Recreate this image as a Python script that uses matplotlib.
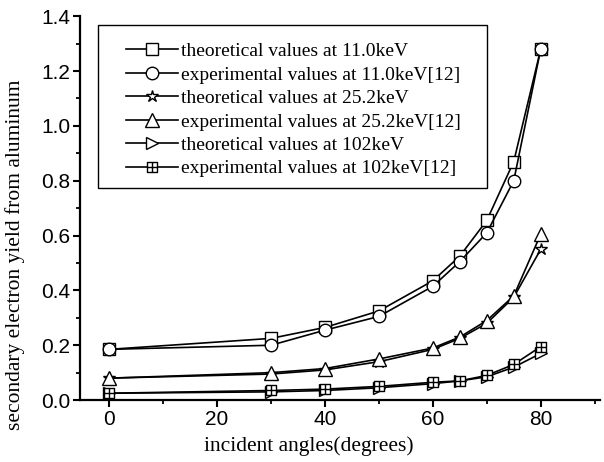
import matplotlib
matplotlib.use("Agg")
import matplotlib.pyplot as plt
from matplotlib.path import Path
from matplotlib.patches import Rectangle
import numpy as np

angles = [0, 30, 40, 50, 60, 65, 70, 75, 80]
theo_11 = [0.185, 0.225, 0.265, 0.325, 0.435, 0.525, 0.655, 0.870, 1.280]
exp_11 = [0.185, 0.200, 0.255, 0.305, 0.415, 0.505, 0.610, 0.800, 1.280]
theo_25 = [0.080, 0.095, 0.110, 0.140, 0.185, 0.225, 0.280, 0.375, 0.550]
exp_25 = [0.080, 0.100, 0.115, 0.150, 0.190, 0.230, 0.290, 0.380, 0.605]
theo_102 = [0.025, 0.030, 0.035, 0.045, 0.060, 0.070, 0.085, 0.120, 0.170]
exp_102 = [0.025, 0.035, 0.040, 0.050, 0.065, 0.070, 0.090, 0.130, 0.195]

labels = ["theoretical values at 11.0keV",
          "experimental values at 11.0keV[12]",
          "theoretical values at 25.2keV",
          "experimental values at 25.2keV[12]",
          "theoretical values at 102keV",
          "experimental values at 102keV[12]"]

sq_plus = Path(
    [(-1, -1), (1, -1), (1, 1), (-1, 1), (-1, -1),
     (0, -1), (0, 1), (-1, 0), (1, 0)],
    [Path.MOVETO, Path.LINETO, Path.LINETO, Path.LINETO, Path.CLOSEPOLY,
     Path.MOVETO, Path.LINETO, Path.MOVETO, Path.LINETO])

series = [theo_11, exp_11, theo_25, exp_25, theo_102, exp_102]
markers = ['s', 'o', '*', '^', '>', sq_plus]
msizes = [8, 9, 9, 10, 9, 7]

fig = plt.figure(figsize=(6.04, 4.62), dpi=100)
ax = fig.add_axes([0.1325, 0.134, 0.861, 0.831])

for ys, m, ms, lab in zip(series, markers, msizes, labels):
    ax.plot(angles, ys, color='black', lw=1.2, marker=m, markersize=ms,
            markerfacecolor='white', markeredgecolor='black',
            markeredgewidth=1.0, label=lab)

ax.set_xlim(-5.4, 91)
ax.set_ylim(0, 1.4)
ax.set_xticks([0, 20, 40, 60, 80])
ax.set_xticks([10, 30, 50, 70, 90], minor=True)
ax.set_yticks(np.arange(0, 1.41, 0.2))
ax.set_yticks(np.arange(0.1, 1.4, 0.2), minor=True)
ax.set_yticklabels([f"{v:.1f}" for v in np.arange(0, 1.41, 0.2)])

for s in ['top', 'right']:
    ax.spines[s].set_visible(False)
for s in ['left', 'bottom']:
    ax.spines[s].set_linewidth(1.6)

ax.tick_params(which='major', direction='out', length=5, width=1.5,
               labelsize=15, pad=2)
ax.tick_params(which='minor', direction='out', length=3, width=1.3)
for lab in ax.get_xticklabels() + ax.get_yticklabels():
    lab.set_family('Liberation Sans')

ax.set_xlabel("incident angles(degrees)", family='Liberation Serif',
              fontsize=15.5)
ax.xaxis.set_label_coords(0.44, -0.095)
ax.set_ylabel("secondary electron yield from aluminum",
              family='Liberation Serif', fontsize=15.5)
ax.yaxis.set_label_coords(-0.105, 0.378)

# legend frame drawn separately
ax.add_patch(Rectangle((0.0346, 0.552), 0.783 - 0.0346, 0.977 - 0.552,
                       transform=ax.transAxes, fill=True, facecolor='white',
                       edgecolor='black', lw=1.0, zorder=4))
leg = ax.legend(loc='upper left', bbox_to_anchor=(0.088, 0.931),
                prop={'family': 'Liberation Serif', 'size': 14},
                frameon=False, handlelength=2.7, handletextpad=0.15,
                labelspacing=0.3, borderpad=0, borderaxespad=0)
leg.set_zorder(5)

fig.savefig("out.png", dpi=100)
